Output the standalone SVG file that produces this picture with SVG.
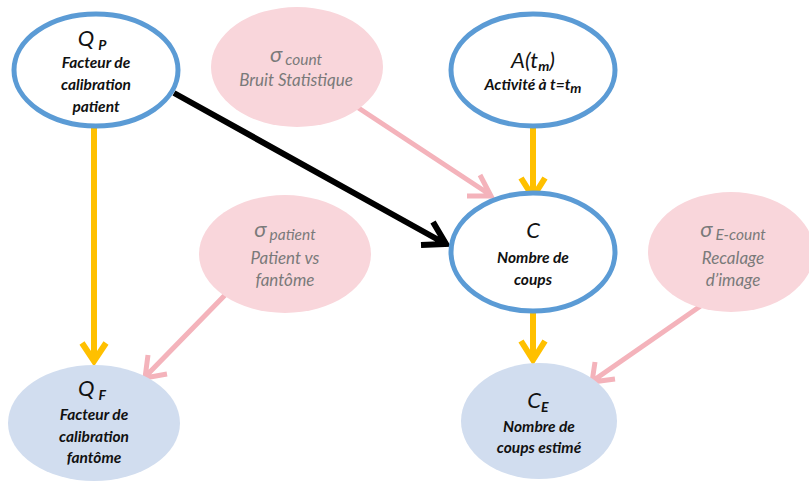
<svg xmlns="http://www.w3.org/2000/svg" width="809" height="481" viewBox="0 0 809 481">
<defs>
<style>
.main{fill:#fff;stroke:#5b9bd5;stroke-width:5}
.noise{fill:#f9d6db}
.obs{fill:#d1ddef}
text{font-family:Lato,"Open Sans","Liberation Sans",sans-serif;font-style:italic;text-anchor:middle}
.t{font-size:22px;fill:#111}
.b{font-size:15.5px;font-weight:bold;fill:#111}
.g{font-size:17px;fill:#7a7a7a}
.gs{font-size:22px;fill:#7a7a7a}
.sub{font-size:14px}
.gsub{font-size:15.5px}
.yl{stroke:#ffc000;stroke-width:6;fill:none;stroke-linecap:butt}
.pk{stroke:#f4b3bb;stroke-width:5;fill:none}
.bk{stroke:#000;stroke-width:6;fill:none}
</style>
</defs>
<rect width="809" height="481" fill="#fff"/>
<g id="connectors">
<path class="yl" d="M94 128V360M82 343L94 361L106 343"/>
<path class="yl" d="M533 128V196M521 178L533 197L545 178"/>
<path class="yl" d="M533 313V359M521 341L533 360L545 341"/>
<path class="bk" d="M174 93L444 243M433 222L446 244L421 245"/>
<path class="pk" d="M357 107L489 194M480 175L491 196L467 196"/>
<path class="pk" d="M227 293L146 376M148 355L145 378L167 374"/>
<path class="pk" d="M702 305L594 380M595 362L592 382L615 379"/>
</g>
<g id="QP">
<ellipse class="main" cx="96" cy="70" rx="82" ry="56"/>
<text class="t" x="92" y="46">Q<tspan class="sub" font-weight="bold" dx="4" dy="4">P</tspan></text>
<text class="b" x="96" y="68">Facteur de</text>
<text class="b" x="96" y="90">calibration</text>
<text class="b" x="96" y="112">patient</text>
</g>
<g id="sigma_count">
<ellipse class="noise" cx="297" cy="67" rx="86" ry="60"/>
<text class="gs" x="296" y="62">σ<tspan class="gsub" dx="3" dy="3">count</tspan></text>
<text class="g" x="296" y="86">Bruit Statistique</text>
</g>
<g id="A">
<ellipse class="main" cx="533" cy="70" rx="82" ry="56"/>
<text class="t" x="533" y="68">A(t<tspan class="sub" font-weight="bold" dy="3">m</tspan><tspan dy="-3">)</tspan></text>
<text class="b" x="533" y="90">Activité à t=t<tspan class="sub" font-size="12px" dy="3">m</tspan></text>
</g>
<g id="sigma_patient">
<ellipse class="noise" cx="285" cy="254" rx="86" ry="59"/>
<text class="gs" x="285" y="237">σ<tspan class="gsub" dx="3" dy="3">patient</tspan></text>
<text class="g" x="285" y="264">Patient vs</text>
<text class="g" x="285" y="286">fantôme</text>
</g>
<g id="C">
<ellipse class="main" cx="533" cy="252" rx="82" ry="59"/>
<text class="t" x="533" y="238">C</text>
<text class="b" x="533" y="263">Nombre de</text>
<text class="b" x="533" y="285">coups</text>
</g>
<g id="sigma_Ecount">
<ellipse class="noise" cx="731" cy="252" rx="83" ry="60"/>
<text class="gs" x="733" y="237">σ<tspan class="gsub" dx="3" dy="3">E-count</tspan></text>
<text class="g" x="733" y="264">Recalage</text>
<text class="g" x="733" y="286">d’image</text>
</g>
<g id="QF">
<ellipse class="obs" cx="94" cy="423" rx="86" ry="58"/>
<text class="t" x="92" y="396">Q<tspan class="sub" font-weight="bold" dx="4" dy="4">F</tspan></text>
<text class="b" x="94" y="420">Facteur de</text>
<text class="b" x="94" y="442">calibration</text>
<text class="b" x="94" y="463">fantôme</text>
</g>
<g id="CE">
<ellipse class="obs" cx="539" cy="421" rx="78" ry="58"/>
<text class="t" x="538" y="408">C<tspan class="sub" font-weight="bold" dy="4">E</tspan></text>
<text class="b" x="539" y="432">Nombre de</text>
<text class="b" x="539" y="453">coups estimé</text>
</g>
</svg>
